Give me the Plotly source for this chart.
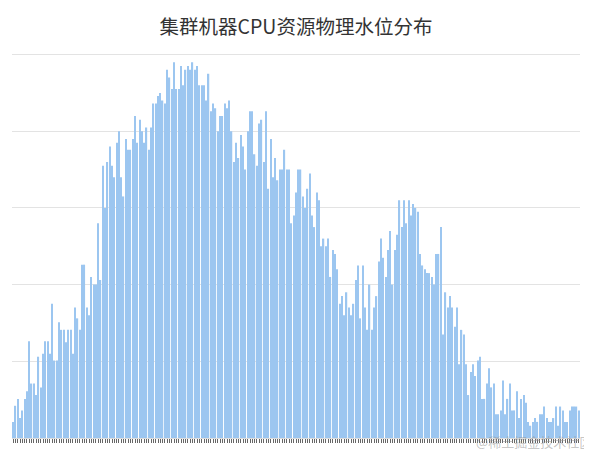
import plotly.graph_objects as go

# bar heights, in gridline units (left to right)
part_1 = [0.21, 0.42, 0.51, 0.26, 0.36, 0.51, 0.61, 1.26, 0.71, 0.71, 0.56, 1.06, 0.66, 1.10,
          1.26, 1.26, 1.10, 1.75, 1.01, 1.01, 1.51, 1.41, 1.41, 1.25, 1.41, 1.41, 1.10, 1.70,
          1.56, 1.41, 2.26, 2.26, 1.70, 1.60, 2.10, 2.00, 2.00, 2.80, 2.06, 3.55, 3.00]
part_2 = [3.60, 3.80, 3.55, 3.40, 3.85, 4.00, 3.40, 3.15, 3.90, 3.76, 3.76, 3.90, 4.20, 3.85,
          4.15, 4.00, 3.85, 4.05, 3.76, 4.05, 4.36, 4.36, 4.46, 4.50, 4.40, 4.36, 4.80, 4.70,
          4.55, 4.90, 4.55, 4.55, 4.85, 4.60, 4.80, 4.85, 4.80, 4.90, 4.80, 4.85, 4.60]
part_3 = [4.60, 4.60, 4.40, 4.75, 4.26, 4.36, 4.30, 4.00, 4.20, 4.20, 4.36, 4.30, 4.40, 4.00,
          3.60, 3.85, 3.65, 3.95, 3.80, 3.50, 4.00, 4.26, 4.26, 3.70, 3.55, 4.10, 4.15, 3.60,
          4.26, 3.25, 3.90, 3.40, 3.65, 3.36, 3.50, 3.50, 3.76, 3.50, 3.50, 2.80, 2.90]
part_4 = [3.20, 3.50, 3.50, 3.15, 3.00, 3.25, 3.45, 2.90, 2.75, 3.20, 3.10, 2.50, 2.60, 2.50,
          2.60, 2.10, 2.45, 2.40, 2.20, 1.75, 1.85, 1.60, 1.90, 1.70, 1.60, 1.75, 2.06, 2.25,
          1.56, 2.25, 1.70, 1.41, 2.00, 1.41, 1.70, 1.85, 2.30, 2.60, 2.35, 2.10, 2.45]
part_5 = [2.70, 2.00, 2.45, 2.65, 3.10, 2.75, 3.10, 2.80, 3.10, 2.90, 3.05, 3.00, 2.95, 2.40,
          2.25, 2.20, 2.15, 2.15, 2.10, 2.00, 2.40, 2.40, 2.75, 1.35, 1.90, 1.70, 1.85, 1.70,
          1.45, 1.70, 0.96, 1.41, 1.35, 0.96, 0.56, 0.86, 0.96, 0.81, 1.01, 1.06, 0.51]
part_6 = [0.51, 0.71, 0.91, 0.66, 0.71, 0.31, 0.31, 0.36, 0.75, 0.31, 0.51, 0.71, 0.36, 0.36,
          0.61, 0.26, 0.51, 0.56, 0.46, 0.21, 0.16, 0.21, 0.26, 0.21, 0.31, 0.31, 0.41, 0.26,
          0.21, 0.21, 0.26, 0.41, 0.16, 0.41, 0.36, 0.21, 0.21, 0.36, 0.41, 0.41, 0.41, 0.36]

values = part_1 + part_2 + part_3 + part_4 + part_5 + part_6
categories = [str(i + 1) for i in range(len(values))]

fig = go.Figure(go.Bar(
    x=categories, y=values,
    marker=dict(color="#9cc6f0", line=dict(width=0)),
    hoverinfo="x+y"
))

# the page puts the figure 8px in from the top-left corner, margins make up for it
fig.update_layout(
    width=592, height=452,
    margin=dict(l=4, r=20, t=45, b=22),
    paper_bgcolor="white", plot_bgcolor="white",
    bargap=0.45,
    showlegend=False,
    title=dict(text="集群机器CPU资源物理水位分布", x=(296 - 8) / 592, xanchor="center",
               y=1 - 19 / 452, yanchor="middle",
               font=dict(family="Noto Sans CJK SC", size=19.5, color="#333333")),
    font=dict(family="Noto Sans CJK SC")
)
fig.update_xaxes(type="category", tickmode="linear", dtick=1, showticklabels=False,
                 ticks="outside", ticklen=4, tickwidth=1, tickcolor="#666666",
                 showgrid=False, showline=True, linecolor="#dddddd")
fig.update_yaxes(range=[0, 5.02], dtick=1, showticklabels=False, showgrid=True,
                 gridcolor="#e3e3e3", gridwidth=1, zeroline=False)

# faint watermark in the bottom right corner
fig.add_annotation(text="@稀土掘金技术社区", xref="paper", yref="paper", x=1.025, y=-0.01,
                   xanchor="right", yanchor="middle", showarrow=False,
                   font=dict(size=13, color="rgba(150,150,150,0.55)"))

fig.write_html("out.html")
